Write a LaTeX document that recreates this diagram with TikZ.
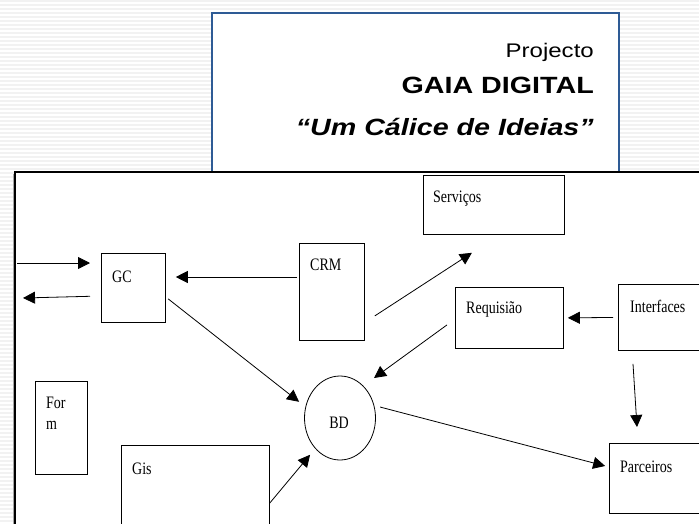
\documentclass[tikz,border=0pt]{standalone}
\usepackage{fontspec}
\setmainfont{Liberation Serif}
\newfontfamily\caixafont[FakeStretch=0.8]{Liberation Serif}
\newfontfamily\titulofont[FakeStretch=1.22]{Liberation Sans}
\usepackage{xcolor}
\usepackage{tikz}
\usetikzlibrary{shapes,arrows,positioning,calc,arrows.meta}
\definecolor{azulmoldura}{HTML}{2E5B95}
\definecolor{riscas}{HTML}{F2F2F2}

\begin{document}
\begin{tikzpicture}[x=1pt, y=-1pt,
    caixa/.style={rectangle, draw, line width=0.8pt, fill=white, anchor=north west, inner sep=0pt},
    rotulo/.style={inner sep=0pt, anchor=base west, align=left, font=\caixafont\fontsize{17.5}{21}\selectfont},
    titulo/.style={inner sep=0pt, anchor=base east},
    seta/.style={draw, line width=0.8pt, -{Triangle[length=12pt,width=12pt]}}]

    \clip (0,0) rectangle (699,523);
    \useasboundingbox (0,0) rectangle (699,523);

    % fundo as riscas
    \foreach \y in {0,4,...,520}
        \fill[riscas] (0,\y) rectangle (699,\y+2);

    % cabecalho
    \draw[azulmoldura, line width=1.5pt, fill=white] (212,13) rectangle (619,180);
    \node[titulo, font=\titulofont\fontsize{19.7}{24}\selectfont] (projecto) at (594,57) {Projecto};
    \node[titulo, font=\titulofont\bfseries\fontsize{23.5}{28}\selectfont] (gaia) at (594,93) {GAIA DIGITAL};
    \node[titulo, font=\titulofont\bfseries\itshape\fontsize{23.5}{28}\selectfont] (lema) at (594,135) {“Um Cálice de Ideias”};

    % moldura do esquema
    \draw[black!35, line width=1.5pt] (13.5,174) -- (13.5,530);
    \draw[line width=2pt, fill=white] (15,172) rectangle (740,560);

    % caixas
    \node[caixa, minimum width=64, minimum height=69] (gc) at (101,253) {};
    \node[caixa, minimum width=65, minimum height=97] (crm) at (299,243) {};
    \node[caixa, minimum width=141, minimum height=59] (servicos) at (423,175) {};
    \node[caixa, minimum width=108, minimum height=61] (req) at (455,287) {};
    \node[caixa, minimum width=100, minimum height=66] (inter) at (618,284) {};
    \node[caixa, minimum width=100, minimum height=70] (parc) at (609,443) {};
    \node[caixa, minimum width=52, minimum height=93] (form) at (35,381) {};
    \node[caixa, minimum width=148, minimum height=100] (gis) at (121,445) {};
    \node[ellipse, draw, line width=0.8pt, fill=white, minimum width=71, minimum height=84] (bd) at (340,418) {};

    % textos
    \node[rotulo] (t-gc) at ($(gc.north west)+(11,29)$) {GC};
    \node[rotulo] (t-crm) at ($(crm.north west)+(11,27)$) {CRM};
    \node[rotulo] (t-servicos) at ($(servicos.north west)+(10,27)$) {Serviços};
    \node[rotulo] (t-req) at ($(req.north west)+(11,26)$) {Requisião};
    \node[rotulo] (t-inter) at ($(inter.north west)+(12,28)$) {Interfaces};
    \node[rotulo] (t-parc) at ($(parc.north west)+(11,29)$) {Parceiros};
    \node[rotulo] (t-form) at ($(form.north west)+(11,48)$) {For\\m};
    \node[rotulo] (t-gis) at ($(gis.north west)+(11,29)$) {Gis};
    \node[rotulo, anchor=base] (t-bd) at ($(bd.center)+(-1,10)$) {BD};

    % ligacoes
    \coordinate (entrada) at (17,263);
    \coordinate (saida) at (23,298);
    \draw[seta, shorten >=11pt] (entrada) -- (entrada -| gc.west);
    \draw[seta, shorten <=11pt] (gc.west |- 0,296) -- (saida);
    \draw[seta, shorten <=2pt, shorten >=10pt] (crm.west |- 0,277) -- (gc.east |- 0,277);
    \draw[seta, shorten <=3pt, shorten >=8pt] (gc.east |- 0,297) -- (bd.162);
    \draw[seta, shorten >=8pt] (gis.east |- 0,503) -- (bd.231);
    \draw[seta] ([shift={(10,24)}]crm.east) -- ([shift={(-22,18)}]servicos.south);
    \draw[seta] ([shift={(-8,7)}]req.west) -- ([shift={(34,-40)}]bd.center);
    \draw[seta, shorten <=5pt, shorten >=4pt] (inter.west) -- (req.east);
    \draw[seta, shorten <=6pt, shorten >=4pt] (bd.20) -- (parc.west |- 0,467);
    \draw[seta] ([shift={(15,13)}]inter.south west) -- ([shift={(28,-16)}]parc.north west);
\end{tikzpicture}
\end{document}
